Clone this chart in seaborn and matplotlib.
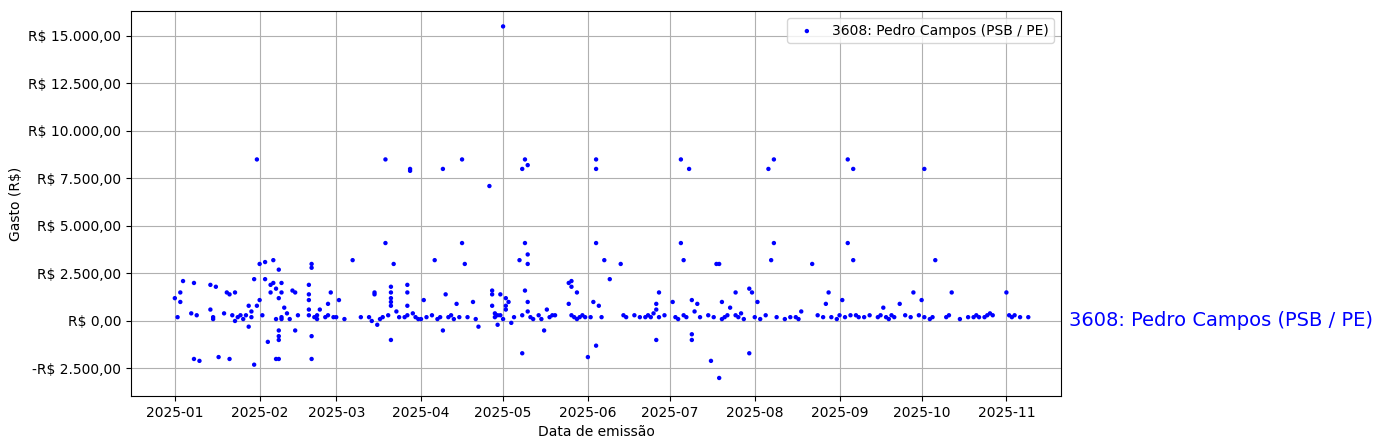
import pandas as pd
import matplotlib
matplotlib.use("Agg")
import matplotlib.pyplot as plt
import matplotlib.dates as mdates
from matplotlib.ticker import FuncFormatter
import seaborn as sns

deputado = "3608: Pedro Campos (PSB / PE)"

datas = [
    "01-01","01-02","01-03","01-03","01-04","01-07","01-08","01-08","01-09","01-10","01-14","01-14","01-15","01-15",
    "01-16","01-17","01-19","01-20","01-21","01-21","01-22","01-23","01-23","01-24","01-25","01-26","01-27","01-28",
    "01-28","01-29","01-29","01-30","01-30","01-31","01-31","02-01","02-01","02-02","02-03","02-03","02-04","02-05",
    "02-05","02-06","02-06","02-07","02-07","02-07","02-08","02-08","02-08","02-08","02-08","02-08","02-09","02-09",
    "02-09","02-09","02-10","02-11","02-12","02-13","02-14","02-14","02-15",
    "02-19","02-19","02-19","02-19","02-19","02-20","02-20","02-20","02-20","02-21","02-22","02-22","02-23","02-25",
    "02-26","02-26","02-27","02-28","03-01","03-02","03-04","03-07","03-10","03-13","03-14","03-15","03-15","03-16",
    "03-17","03-18","03-19","03-19","03-20","03-21","03-21","03-21","03-21","03-21","03-21","03-22","03-23","03-24",
    "03-26","03-27","03-27","03-27","03-27","03-28","03-28","03-29","03-30","03-31","04-01","04-02","04-03","04-05",
    "04-06","04-07","04-08","04-09","04-09","04-10","04-11","04-12","04-13","04-14","04-15","04-16","04-16","04-17",
    "04-18","04-20","04-21","04-22","04-26","04-27","04-27","04-27","04-28","04-28","04-29","04-29","04-30","04-30",
    "05-01","05-01","05-02","05-02","05-02","05-03","05-04","05-05","05-07","05-08","05-08","05-08","05-09","05-09",
    "05-09","05-10","05-10","05-10","05-10","05-10","05-11","05-12","05-14","05-15","05-16","05-17","05-18","05-19",
    "05-20","05-25","05-25","05-26","05-26","05-26","05-27","05-28","05-28","05-29","05-30","05-31","06-01","06-02",
    "06-03","06-04","06-04","06-04","06-04","06-05","06-06","06-07","06-09","06-13","06-14","06-15","06-18","06-20",
    "06-22","06-23","06-24","06-25","06-26","06-26","06-26","06-27","06-27","06-29","07-02","07-03","07-04","07-05",
    "07-05","07-06","07-06","07-07","07-08","07-09","07-09","07-09","07-10","07-11","07-12","07-15","07-16","07-17",
    "07-18","07-19","07-19","07-20","07-20","07-21","07-22","07-23","07-25","07-25","07-26","07-27","07-28","07-30",
    "07-30","07-31","08-01","08-02","08-03","08-05","08-06","08-07","08-08","08-08","08-09","08-12","08-14","08-16",
    "08-17","08-18","08-22","08-24","08-26","08-27","08-28","08-29","08-31","09-01","09-02","09-03","09-04","09-04",
    "09-05","09-06","09-06","09-07","09-08","09-10","09-12","09-15","09-16","09-17","09-18","09-19","09-20","09-21",
    "09-23","09-25","09-27","09-28","09-30","10-01","10-02","10-02","10-04","10-05","10-06","10-10","10-11","10-12",
    "10-15","10-18","10-20","10-21","10-22","10-24","10-25","10-26","10-27","11-01","11-02","11-03","11-04","11-06",
    "11-09",
]
gastos = [
    1200,200,1000,1500,2100,400,2000,-2000,300,-2100,1900,600,100,200,
    1800,-1900,400,1500,-2000,1400,300,0,1500,200,300,100,300,800,
    -300,500,200,-2300,2200,800,8500,3000,1100,300,2200,3100,-1100,1500,
    1900,3200,2000,1700,100,-2000,-2000,2700,-800,-500,1200,-1000,2000,200,
    1500,100,700,400,100,1600,1500,-500,300,
    1900,1400,1100,600,300,3000,2800,-800,-2000,200,100,300,600,200,
    900,300,1500,200,200,1100,100,3200,200,200,0,1500,1400,-200,
    100,200,4100,8500,300,1000,1800,1500,1200,800,-1000,3000,500,200,
    200,1900,1500,800,300,7900,8000,400,200,100,100,1100,200,300,
    3200,100,200,8000,-500,1400,200,300,100,900,200,4100,8500,3000,
    200,1000,100,-300,7100,1600,800,1400,400,200,300,-200,1400,300,
    100,15500,600,800,1200,1000,-100,200,3200,-1700,8000,300,1600,8500,
    4100,8200,1000,3500,3000,500,200,100,300,100,-500,600,200,300,
    300,900,2000,2100,1800,300,200,1500,100,200,300,200,-1900,200,
    1000,8000,8500,4100,-1300,800,200,3200,2200,3000,300,200,300,200,
    200,300,200,400,600,900,-1000,1500,200,300,1000,200,100,8500,
    4100,300,3200,200,8000,1100,-700,-1000,500,900,200,300,-2100,200,
    3000,3000,-3000,1000,100,200,300,700,1500,300,200,400,100,-1700,
    1700,1500,200,1000,100,300,8000,3200,4100,8500,200,100,200,200,
    100,500,3000,300,200,900,1500,200,100,300,1100,200,8500,4100,
    300,3200,8000,300,200,200,300,200,300,700,200,100,300,200,
    900,300,200,1500,300,1100,200,8000,100,200,3200,200,300,1500,
    100,200,200,300,200,200,300,400,300,1500,300,200,300,200,
    200,
]

df = pd.DataFrame({"data": pd.to_datetime(["2025-" + d for d in datas]), "gasto": gastos})


def reais(v, pos):
    s = f"{abs(v):,.2f}".replace(",", "X").replace(".", ",").replace("X", ".")
    return ("-R$ " if v < 0 else "R$ ") + s


fig = plt.figure(figsize=(13.84, 4.48), dpi=100)
ax = fig.add_axes([0.0947, 0.116, 0.672, 0.859])
sns.scatterplot(data=df, x="data", y="gasto", color="blue", s=10, edgecolor="none",
                label=deputado, ax=ax)
ax.set_ylim(-3950, 16300)
ax.set_xlim(pd.Timestamp("2024-12-16"), pd.Timestamp("2025-11-21"))
ax.xaxis.set_major_locator(mdates.MonthLocator())
ax.xaxis.set_major_formatter(mdates.DateFormatter("%Y-%m"))
ax.yaxis.set_major_formatter(FuncFormatter(reais))
ax.grid(True)
ax.set_axisbelow(True)
ax.set_xlabel("Data de emissão")
ax.set_ylabel("Gasto (R$)")
ax.legend(loc="upper right")
ax.text(1.008, 0, deputado, transform=ax.get_yaxis_transform(), color="blue",
        fontsize=14, va="center", ha="left")
fig.savefig("out.png", dpi=100)
